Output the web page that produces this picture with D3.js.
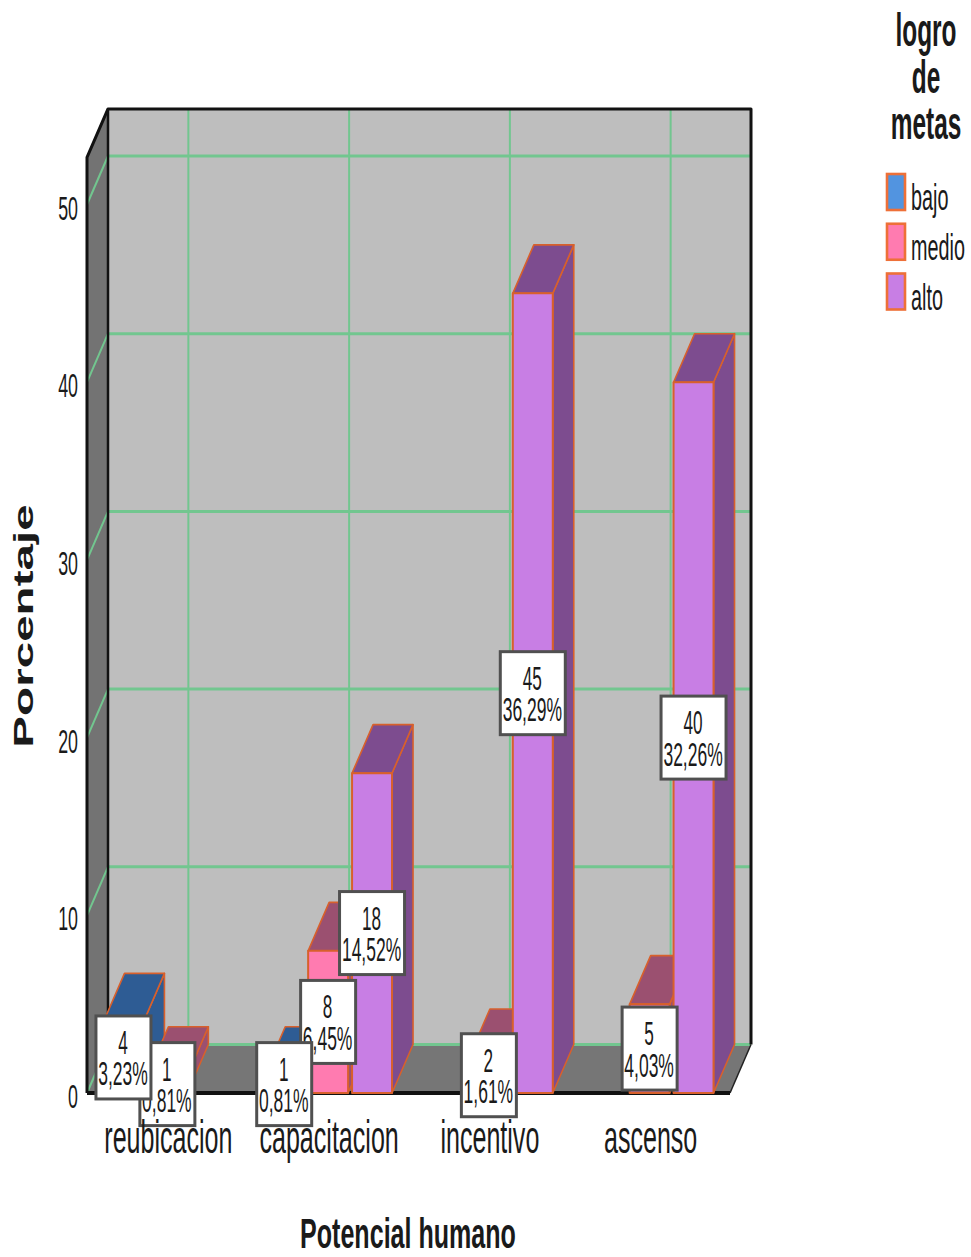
<!DOCTYPE html>
<html>
<head>
<meta charset="utf-8">
<script src="https://cdn.jsdelivr.net/npm/d3@7/dist/d3.min.js"></script>
<style>
html,body{margin:0;padding:0;background:#fff}
svg{display:block}
text{font-family:"Liberation Sans",Arial,sans-serif;fill:#1a1a1a}
</style>
</head>
<body>
<svg id="chart" width="971" height="1257"></svg>
<script>
// Category and series values
const categories = ["reubicacion", "capacitacion", "incentivo", "ascenso"];
const seriesNames = ["bajo", "medio", "alto"];
const bajoCounts = [4, 1, 0, 0];
const medioCounts = [1, 8, 2, 5];
const altoCounts = [0, 18, 45, 40];
const bajoPercents = ["3,23%", "0,81%", "", ""];
const medioPercents = ["0,81%", "6,45%", "1,61%", "4,03%"];
const altoPercents = ["", "14,52%", "36,29%", "32,26%"];
const yTicks = [0, 10, 20, 30, 40, 50];
const legendTitle = ["logro", "de", "metas"];
const xAxisTitle = "Potencial humano";
const yAxisTitle = "Porcentaje";

// Face colours per series
const frontColor = {bajo: "#5294e0", medio: "#ff7bb0", alto: "#c87ee4"};
const shadeColor = {bajo: "#2e5c94", medio: "#9b5070", alto: "#7d4c8f"};
const edgeColor = "#d8602c";
const gridColor = "#72c68f";

// Plot geometry: front plane plus the oblique depth offset
const plotLeft = 87, plotRight = 730, plotBase = 1093, zeroTop = 204.5;
const depthX = 21, depthY = -48.5;
const yCeil = 52.65;
const squeeze = 0.52;

const svg = d3.select("#chart");
const x0 = d3.scaleBand().domain(categories).range([plotLeft, plotRight]);
const x1 = d3.scaleBand().domain(seriesNames).range([0, x0.bandwidth()])
  .paddingInner(0.09).paddingOuter(0.375);
const y = d3.scaleLinear().domain([0, 50]).range([plotBase, zeroTop]);

const line = d3.line();
const poly = (g, pts, fill, stroke, sw) => g.append("path")
  .attr("d", line(pts) + "Z").attr("fill", fill)
  .attr("stroke", stroke || "none").attr("stroke-width", sw || 0)
  .attr("stroke-linejoin", "round");

// Narrow text helper, horizontal squeeze applied around the anchor
function label(g, str, px, py, size, opts = {}) {
  const rot = opts.rotate ? ` rotate(${opts.rotate})` : "";
  return g.append("text")
    .attr("transform", `translate(${px},${py})${rot} scale(${opts.sx || squeeze},1)`)
    .attr("text-anchor", opts.anchor || "middle")
    .attr("font-size", size)
    .attr("font-weight", opts.bold ? "bold" : "normal")
    .text(str);
}

// Walls and floor
const walls = svg.append("g");
const plotTop = y(yCeil);
poly(walls, [[plotLeft + depthX, plotTop + depthY], [plotRight + depthX, plotTop + depthY], [plotRight + depthX, plotBase + depthY], [plotLeft + depthX, plotBase + depthY]], "#bebebe");
poly(walls, [[plotLeft, plotTop], [plotLeft + depthX, plotTop + depthY], [plotLeft + depthX, plotBase + depthY], [plotLeft, plotBase]], "#737373");
poly(walls, [[plotLeft, plotBase], [plotLeft + depthX, plotBase + depthY], [plotRight + depthX, plotBase + depthY], [plotRight, plotBase]], "#767676");

// Gridlines on the back and side walls
const grid = svg.append("g").attr("fill", "none").attr("stroke", gridColor);
yTicks.forEach(t => {
  const yy = y(t);
  grid.append("line").attr("x1", plotLeft + depthX).attr("x2", plotRight + depthX)
    .attr("y1", yy + depthY).attr("y2", yy + depthY).attr("stroke-width", 3);
  grid.append("line").attr("x1", plotLeft).attr("x2", plotLeft + depthX)
    .attr("y1", yy).attr("y2", yy + depthY).attr("stroke-width", 2);
});
categories.forEach(c => {
  const xx = x0(c) + x0.bandwidth() / 2 + depthX;
  grid.append("line").attr("x1", xx).attr("x2", xx)
    .attr("y1", plotTop + depthY).attr("y2", plotBase + depthY).attr("stroke-width", 2);
});

// Chart outline
const frame = svg.append("g").attr("fill", "none").attr("stroke", "#111");
frame.append("path").attr("stroke-width", 3).attr("stroke-linejoin", "round")
  .attr("d", line([[plotLeft, plotBase], [plotLeft, plotTop], [plotLeft + depthX, plotTop + depthY], [plotRight + depthX, plotTop + depthY], [plotRight + depthX, plotBase + depthY]]));
frame.append("path").attr("stroke-width", 2.5)
  .attr("d", line([[plotLeft + depthX, plotTop + depthY], [plotLeft + depthX, plotBase + depthY]]));
frame.append("path").attr("stroke-width", 1.5).attr("stroke", "#222")
  .attr("d", line([[plotRight + depthX, plotBase + depthY], [plotRight, plotBase]]));
frame.append("path").attr("stroke-width", 4)
  .attr("d", line([[plotLeft, plotBase], [plotRight, plotBase]]));

// Bars, each one an extruded box
const countsBySeries = {bajo: bajoCounts, medio: medioCounts, alto: altoCounts};
const percentsBySeries = {bajo: bajoPercents, medio: medioPercents, alto: altoPercents};
const barLayer = svg.append("g");
const w = x1.bandwidth();
categories.forEach((c, ci) => {
  seriesNames.forEach(s => {
    const v = countsBySeries[s][ci];
    if (!v) return;
    const xa = x0(c) + x1(s), xb = xa + w, yt = y(v), yb = y(0);
    const g = barLayer.append("g");
    poly(g, [[xb, yt], [xb + depthX, yt + depthY], [xb + depthX, yb + depthY], [xb, yb]], shadeColor[s], edgeColor, 1.6);
    poly(g, [[xa, yt], [xa + depthX, yt + depthY], [xb + depthX, yt + depthY], [xb, yt]], shadeColor[s], edgeColor, 1.6);
    poly(g, [[xa, yt], [xb, yt], [xb, yb], [xa, yb]], frontColor[s], edgeColor, 2);
  });
});

// Value boxes; earlier categories and lower series sit on top
const boxLayer = svg.append("g");
const boxes = [];
categories.forEach((c, ci) => seriesNames.forEach(s => {
  const v = countsBySeries[s][ci];
  if (v) boxes.push({c, s, v, pct: percentsBySeries[s][ci]});
}));
boxes.reverse().forEach(d => {
  const cx = x0(d.c) + x1(d.s) + w / 2;
  const cy = y(d.v / 2);
  const bw = d.pct.length > 5 ? 65 : 55, bh = 83;
  const g = boxLayer.append("g");
  g.append("rect").attr("x", cx - bw / 2).attr("y", cy - bh / 2)
    .attr("width", bw).attr("height", bh)
    .attr("fill", "#fff").attr("stroke", "#505050").attr("stroke-width", 3);
  label(g, d.v, cx - 0.5, cy - 3.5, 33);
  label(g, d.pct, cx - 0.5, cy + 28, 33, {sx: 0.53});
});

// Y axis tick labels
const axisText = svg.append("g");
yTicks.forEach(t => label(axisText, t, plotLeft - 9, y(t) + 15, 33, {anchor: "end", sx: 0.54}));

// Category labels
categories.forEach(c => label(axisText, c, x0(c) + x0.bandwidth() / 2 + 1, 1153, 46, {sx: 0.545}));

// Axis titles
label(axisText, xAxisTitle, 408, 1248, 42, {bold: true, sx: 0.597});
label(axisText, yAxisTitle, 33, 626, 28, {bold: true, rotate: -90, sx: 1.7});

// Legend
const legend = svg.append("g");
legendTitle.forEach((t, i) => label(legend, t, 926, 46 + i * 46.5, 47, {bold: true}));
const legendY = d3.scalePoint().domain(seriesNames).range([174, 273.5]);
seriesNames.forEach(s => {
  legend.append("rect").attr("x", 887).attr("y", legendY(s))
    .attr("width", 18).attr("height", 36)
    .attr("fill", frontColor[s]).attr("stroke", "#ee7038").attr("stroke-width", 2.6);
  label(legend, s, 911, legendY(s) + 36, 37, {anchor: "start", sx: 0.535});
});
</script>
</body>
</html>
